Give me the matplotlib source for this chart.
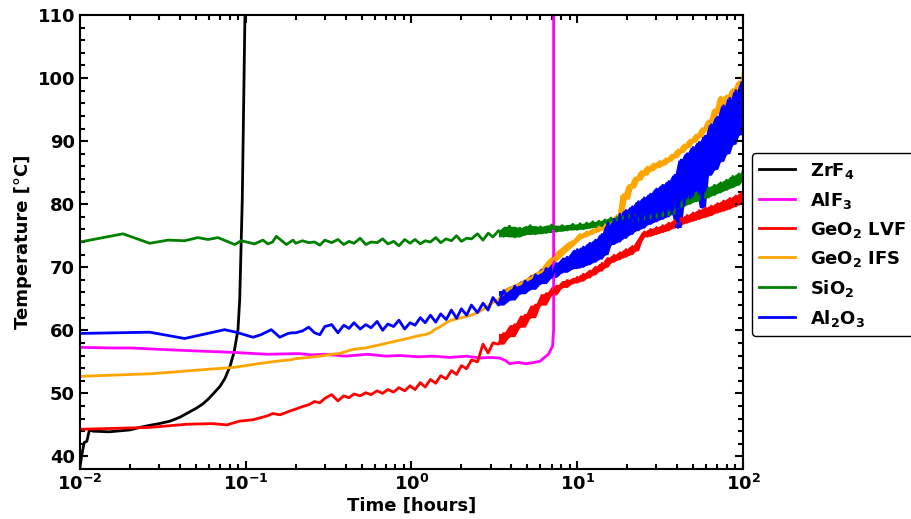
import numpy as np
import matplotlib
matplotlib.use("Agg")
import matplotlib.pyplot as plt
from matplotlib.ticker import FuncFormatter, MultipleLocator

plt.rcParams['font.family'] = ['DejaVu Sans']
plt.rcParams['font.weight'] = 'bold'
plt.rcParams['font.size'] = 13
plt.rcParams['mathtext.default'] = 'bf'
plt.rcParams['axes.linewidth'] = 1.5

# shared measurement times for the long, noisy part of the runs (hours)
t_a = [0.20, 0.22, 0.24, 0.26, 0.28, 0.30, 0.33, 0.36, 0.39, 0.42, 0.45,
       0.49, 0.53, 0.57, 0.62, 0.67, 0.72, 0.78, 0.84, 0.91, 0.98]
t_b = [1.05, 1.13, 1.21, 1.3, 1.4, 1.5, 1.62, 1.74,
       1.87, 2.0, 2.15, 2.3, 2.5, 2.7, 2.9, 3.1,
       3.35, 3.6, 3.9, 4.2, 4.5, 4.85, 5.2, 5.6,
       6.0, 6.5, 7.0, 7.5, 8.1, 8.7, 9.4]
t_c = [10.0, 10.4, 10.9, 11.4, 11.9, 12.4, 12.9, 13.5,
       14.1, 14.7, 15.3, 16.0, 16.7, 17.4, 18.1, 18.9,
       19.7, 20.6, 21.5, 22.4, 23.4, 24.4, 25.4, 26.5,
       27.7, 28.9, 30.1, 31.4, 32.8, 34.2, 35.7, 37.2,
       38.8, 40.5, 42.3, 44.1, 46.0, 48.0, 50.0, 52.2,
       54.5, 56.8, 59.3, 61.9, 64.5, 67.3, 70.2, 73.3,
       76.4, 79.7, 83.2, 86.8, 90.5, 94.5, 98.5, 100.0]

# ZrF4
zrf4_t = [0.01, 0.0103, 0.0106, 0.0110, 0.0114, 0.012, 0.015, 0.02, 0.023,
          0.026, 0.03, 0.035, 0.04, 0.044, 0.05, 0.055, 0.06, 0.0699, 0.075,
          0.0804, 0.085, 0.0898, 0.092, 0.0953, 0.0989, 0.1]
zrf4_T = [38.3, 40.5, 42.2, 42.4, 44.2, 44.0, 43.9, 44.2, 44.6,
          44.9, 45.2, 45.6, 46.2, 46.8, 47.6, 48.3, 49.2, 51.1, 52.4,
          54.3, 56.5, 60.1, 65.0, 80.7, 110.0, 115.0]

# AlF3
alf3_t = [0.01, 0.015, 0.02, 0.0264, 0.035, 0.053, 0.084, 0.134, 0.21, 0.25,
          0.3, 0.4, 0.54, 0.7, 0.85, 1.1, 1.35, 1.7, 2.15, 2.6, 3.0, 3.4,
          3.7, 3.9, 4.4, 4.9, 5.5, 5.96, 6.7, 7.1, 7.2, 7.2]
alf3_T = [57.3, 57.2, 57.2, 57.05, 56.9, 56.7, 56.5, 56.2, 56.3, 56.1,
          56.2, 55.9, 56.2, 55.9, 56.0, 55.8, 55.9, 55.7, 55.9, 55.6, 55.7, 55.6,
          55.2, 54.7, 54.9, 54.7, 54.9, 55.1, 56.2, 57.5, 60.1, 112.0]

# GeO2 LVF
lvf_t0 = [0.01, 0.0264, 0.044, 0.063, 0.077, 0.092, 0.11, 0.134, 0.146, 0.161, 0.185]
lvf_T0 = [44.3, 44.6, 45.1, 45.2, 45.0, 45.6, 45.8, 46.4, 46.8, 46.6, 47.2]
lvf_a = [47.5, 47.9, 48.2, 48.7, 48.5, 49.2, 49.8, 48.8, 49.6, 49.3, 49.9,
         49.6, 50.1, 49.8, 50.4, 50.0, 50.6, 50.2, 50.9, 50.4, 51.2]
lvf_b = [50.6, 51.7, 51.0, 52.2, 51.6, 52.8, 52.3, 53.6,
         53.0, 54.4, 53.9, 55.3, 55.0, 57.8, 56.4, 58.0,
         57.8, 59.5, 59.0, 60.9, 60.5, 62.4, 62.0, 64.0,
         64.0, 65.8, 65.6, 67.0, 66.8, 67.9, 67.5]
lvf_c = [68.4, 67.8, 68.9, 68.3, 69.4, 68.8, 70.0, 69.4,
         70.6, 70.0, 71.4, 70.8, 71.9, 71.2, 72.3, 71.6,
         72.8, 72.0, 73.3, 72.6, 74.0, 74.8, 75.6, 74.9,
         76.0, 75.2, 76.3, 75.5, 76.6, 75.8, 77.0, 76.2,
         77.4, 76.6, 77.8, 77.0, 78.2, 77.3, 78.6, 77.6,
         79.0, 77.9, 79.4, 78.2, 79.7, 78.6, 80.1, 78.9,
         80.5, 79.2, 80.9, 79.6, 81.3, 80.0, 81.8, 80.6]

# GeO2 IFS
ifs_t0 = [0.01, 0.0264, 0.042, 0.058, 0.084, 0.1, 0.134, 0.167, 0.185]
ifs_T0 = [52.7, 53.1, 53.5, 53.8, 54.1, 54.4, 54.9, 55.2, 55.3]
ifs_a = [55.5, 55.6, 55.7, 55.8, 55.9, 56.0, 56.2, 56.3, 56.5, 56.8, 57.0,
         57.1, 57.2, 57.4, 57.6, 57.8, 58.0, 58.2, 58.4, 58.6, 58.8]
ifs_b = [59.0, 59.2, 59.3, 59.6, 60.2, 60.6, 61.2, 61.6,
         61.8, 62.0, 62.2, 62.4, 62.8, 63.3, 63.9, 64.4,
         64.9, 65.8, 66.6, 67.0, 67.3, 67.8, 68.2, 68.8,
         69.2, 69.8, 71.0, 71.8, 72.6, 73.3, 74.0]
ifs_c = [74.4, 75.2, 74.8, 75.6, 75.2, 76.0, 75.6, 76.4,
         76.0, 76.8, 76.6, 77.4, 77.2, 78.2, 78.0, 81.5,
         80.8, 83.0, 82.6, 84.2, 83.8, 85.2, 84.6, 85.9,
         85.3, 86.4, 85.8, 86.8, 86.2, 87.2, 86.8, 87.8,
         87.4, 88.6, 88.2, 89.4, 89.0, 90.2, 89.8, 91.0,
         90.6, 92.0, 91.6, 93.2, 93.0, 95.0, 94.4, 97.0,
         95.4, 97.2, 96.6, 98.2, 97.8, 99.4, 99.0, 100.6]

# SiO2
sio2_t0 = [0.01, 0.01816, 0.02634, 0.034, 0.0428, 0.0515, 0.0592, 0.068, 0.0858,
           0.094, 0.113, 0.127, 0.136, 0.145, 0.153, 0.176, 0.193]
sio2_T0 = [74.0, 75.3, 73.8, 74.3, 74.2, 74.7, 74.4, 74.7, 73.6,
           74.2, 73.7, 74.3, 73.7, 74.0, 74.9, 73.6, 74.3]
sio2_a = [73.8, 74.2, 73.9, 74.0, 73.5, 74.3, 73.9, 74.4, 73.6, 74.1, 73.8,
          74.6, 73.6, 74.0, 73.9, 74.5, 73.7, 74.1, 73.4, 74.4, 73.8]
sio2_b = [74.4, 73.7, 74.2, 74.0, 74.7, 73.9, 74.5, 74.2,
          75.0, 74.1, 74.6, 74.5, 75.3, 74.3, 75.4, 74.8,
          75.8, 74.9, 76.5, 74.8, 76.2, 75.2, 76.6, 75.3,
          76.4, 75.5, 76.7, 75.7, 76.6, 75.9, 76.8]
sio2_c = [76.0, 76.9, 76.1, 77.0, 76.3, 77.2, 76.4, 77.3,
          76.6, 77.5, 76.8, 77.8, 77.0, 77.9, 77.1, 78.0,
          77.2, 78.2, 77.4, 78.3, 77.5, 78.5, 77.6, 78.6,
          77.8, 78.8, 78.0, 79.0, 78.1, 79.2, 78.3, 79.3,
          78.5, 80.8, 79.6, 81.2, 80.0, 81.5, 80.4, 81.8,
          80.7, 82.2, 81.0, 82.6, 81.4, 83.0, 81.8, 83.4,
          82.2, 83.8, 82.6, 84.4, 83.0, 84.8, 83.6, 85.2]

# Al2O3
al2o3_t0 = [0.01, 0.0263, 0.0428, 0.0746, 0.0873, 0.1106, 0.1236, 0.1426, 0.1603, 0.18, 0.19]
al2o3_T0 = [59.5, 59.7, 58.7, 60.1, 59.7, 58.9, 59.3, 60.1, 58.9, 59.5, 59.6]
al2o3_a = [59.6, 59.9, 60.5, 59.6, 59.3, 60.6, 60.9, 59.6, 60.8, 60.3, 61.2,
           60.2, 60.9, 60.4, 61.4, 60.0, 61.0, 60.6, 61.6, 60.2, 61.2]
al2o3_b = [60.8, 62.0, 61.2, 62.4, 61.3, 62.6, 61.7, 63.2,
           61.9, 63.4, 62.4, 64.0, 62.8, 64.3, 63.2, 65.2,
           64.0, 66.3, 64.8, 67.0, 65.8, 67.8, 66.5, 68.8,
           67.4, 69.8, 68.4, 70.6, 69.2, 71.6, 69.8]
al2o3_c = [72.8, 70.0, 73.2, 70.4, 73.8, 70.8, 74.3, 71.3,
           75.2, 72.0, 77.0, 73.6, 77.6, 74.0, 78.4, 74.6,
           79.0, 75.2, 79.6, 75.8, 80.4, 76.2, 81.0, 76.8,
           81.6, 77.2, 82.4, 77.6, 83.0, 78.0, 83.6, 78.6,
           84.6, 76.3, 87.0, 80.0, 88.0, 81.0, 89.0, 82.2,
           89.8, 79.5, 90.8, 84.6, 92.6, 85.5, 93.8, 86.8,
           95.6, 88.0, 96.8, 89.5, 98.0, 91.0, 99.3, 95.0]

t_long = t_a + t_b + t_c

series = [
    ('ZrF$_4$', 'black', zrf4_t, zrf4_T, False),
    ('AlF$_3$', 'magenta', alf3_t, alf3_T, False),
    ('GeO$_2$ LVF', 'red', lvf_t0 + t_long, lvf_T0 + lvf_a + lvf_b + lvf_c, True),
    ('GeO$_2$ IFS', 'orange', ifs_t0 + t_long, ifs_T0 + ifs_a + ifs_b + ifs_c, True),
    ('SiO$_2$', 'green', sio2_t0 + t_long, sio2_T0 + sio2_a + sio2_b + sio2_c, True),
    ('Al$_2$O$_3$', 'blue', al2o3_t0 + t_long, al2o3_T0 + al2o3_a + al2o3_b + al2o3_c, True),
]

fig = plt.figure(figsize=(9.12, 5.19), dpi=100)
ax = fig.add_axes([0.0877, 0.0963, 0.7270, 0.8748])

band_from = 3.3  # hours; later on the sensor noise reads as a solid band
for name, col, t, T, noisy in series:
    if noisy:
        tt = np.array(t)
        TT = np.array(T)
        prev = np.r_[TT[0], TT[:-1]]
        nxt = np.r_[TT[1:], TT[-1]]
        lo = np.minimum(np.minimum(prev, TT), nxt)
        hi = np.maximum(np.maximum(prev, TT), nxt)
        ax.fill_between(tt, lo, hi, where=tt >= band_from, color=col, lw=0)
    ax.plot(t, T, color=col, lw=2, label=name)

ax.set_xscale('log')
ax.set_xlim(1e-2, 1e2)
ax.set_ylim(38, 110)
ax.yaxis.set_major_locator(MultipleLocator(10))
ax.yaxis.set_minor_locator(MultipleLocator(2))
ax.xaxis.set_major_formatter(FuncFormatter(lambda v, p: r'$\mathbf{10^{%d}}$' % round(np.log10(v))))
ax.tick_params(which='both', direction='in', top=True, right=True, width=1.5)
ax.tick_params(which='major', length=6, labelsize=13)
ax.tick_params(which='minor', length=3.5)

ax.set_xlabel('Time [hours]', fontsize=13, fontweight='bold', labelpad=2)
ax.set_ylabel('Temperature [°C]', fontsize=13, fontweight='bold')

leg = ax.legend(loc='upper left', bbox_to_anchor=(1.0, 0.715), fontsize=13,
                frameon=True, fancybox=True, framealpha=1, edgecolor='black')
leg.get_frame().set_linewidth(1.0)

fig.savefig('out.png', dpi=100)
